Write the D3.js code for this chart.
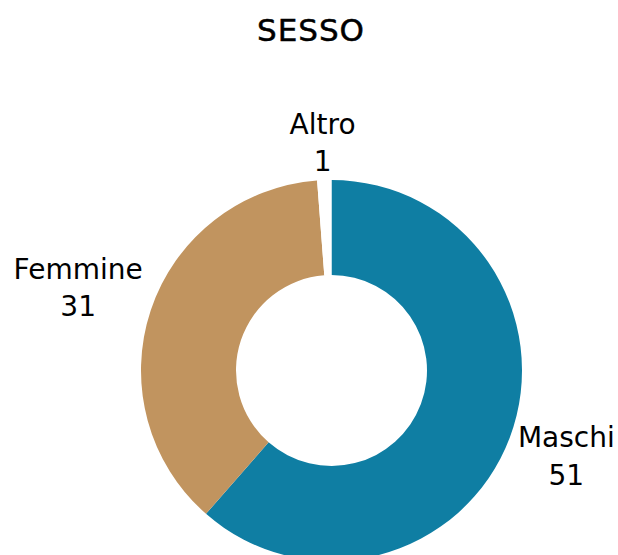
<!DOCTYPE html>
<html><head><meta charset="utf-8">
<script src="https://cdn.jsdelivr.net/npm/d3@7"></script>
<style>body{margin:0;background:#fff}svg{display:block}</style>
</head><body>
<script>
const categories = ["Maschi", "Femmine", "Altro"];
const values = [51, 31, 1];
const colors = ["#0f7ea3", "#c1945f", "#ffffff"];
const title = "SESSO";

const W = 618, H = 555, cx = 331.5, cy = 370.5, R = 190.5, r = 95.5;
const FONT = "'DejaVu Sans', sans-serif";
const svg = d3.select("body").append("svg").attr("width", W).attr("height", H);
svg.append("text").attr("x", 311).attr("y", 41).attr("text-anchor", "middle")
  .attr("font-family", FONT).attr("font-size", 31).attr("letter-spacing", 1)
  .attr("stroke", "#000").attr("stroke-width", 0.5)
  .attr("fill", "#000").text(title);

const data = categories.map((c, i) => ({c, v: values[i], col: colors[i]}));
const pie = d3.pie().value(d => d.v).sort(null);
const arc = d3.arc().innerRadius(r).outerRadius(R);
const g = svg.append("g").attr("transform", `translate(${cx},${cy})`);
const arcs = pie(data);
g.selectAll("path").data(arcs).join("path").attr("d", arc).attr("fill", d => d.data.col);

const anchorArc = d3.arc().innerRadius(R + 10).outerRadius(R + 10);
const lab = g.selectAll("g.lab").data(arcs).join("g").attr("class", "lab");
lab.append("text").attr("text-anchor", "middle").attr("y", 0)
  .attr("font-family", FONT).attr("font-size", 28).attr("fill", "#000")
  .text(d => d.data.c);
lab.append("text").attr("text-anchor", "middle").attr("y", 37.5)
  .attr("font-family", FONT).attr("font-size", 28).attr("fill", "#000")
  .text(d => d.data.v);
lab.each(function(d) {
  const bb = this.getBBox();
  const a = (d.startAngle + d.endAngle) / 2;
  const s = Math.sin(a), c = Math.cos(a);
  const [px, py] = anchorArc.centroid(d);
  const ccx = px + s * bb.width / 2 + 2 * s;
  const ccy = py - c * bb.height * 0.73 - 4.4 + 30 * (1 - Math.abs(s));
  const dx = ccx - (bb.x + bb.width / 2), dy = ccy - (bb.y + bb.height / 2);
  d3.select(this).attr("transform", `translate(${dx},${dy})`);
});
</script>
</body></html>
